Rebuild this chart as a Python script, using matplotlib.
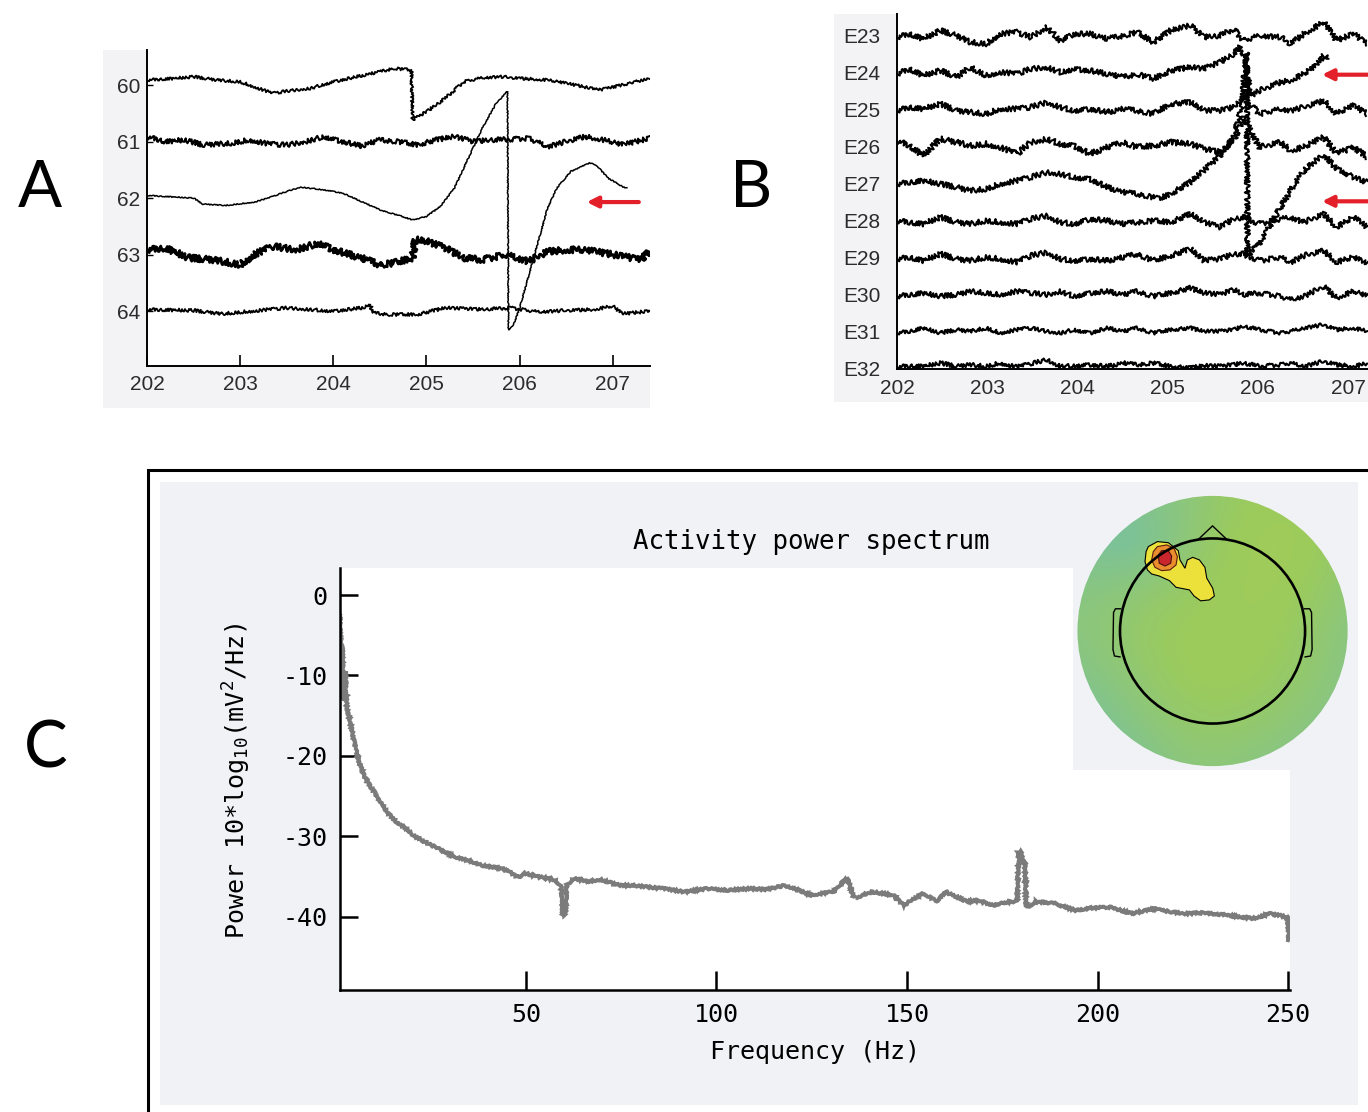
import numpy as np
import matplotlib
matplotlib.use('Agg')
import matplotlib.pyplot as plt
from matplotlib.patches import Rectangle, Circle
from matplotlib.colors import LinearSegmentedColormap

plt.rcParams['axes.unicode_minus'] = False
plt.rcParams['mathtext.fontset'] = 'custom'
plt.rcParams['mathtext.rm'] = 'DejaVu Sans Mono'
plt.rcParams['mathtext.it'] = 'DejaVu Sans Mono'
plt.rcParams['mathtext.bf'] = 'DejaVu Sans Mono'

# ------------------------------------------------------------------ data
# Panel A: channels 60-64, time (s) and deflection (display units, + = up)
A_CHANNELS = [60, 61, 62, 63, 64]
A_XTICKS = [202, 203, 204, 205, 206, 207]

A60_T = [202.0, 202.3, 202.5, 202.75, 203.0, 203.15, 203.35, 203.5, 203.75, 204.0, 204.25,
         204.5, 204.65, 204.84, 204.85, 205.0, 205.2, 205.4, 205.6, 205.8, 206.0, 206.3,
         206.6, 206.85, 207.1, 207.4]
A60_V = [5, 6.7, 8.3, 5, 3.3, -1.7, -8.3, -6, -3.3, 3.3, 8.3, 13.3, 16.7, 15, -35, -26.7,
         -13.3, 3.3, 7.3, 8.3, 6.7, 5, 0, -5, 0, 6.7]

A61_T = [202.0, 202.2, 202.4, 202.6, 202.9, 203.1, 203.3, 203.5, 203.7, 203.9, 204.1, 204.3,
         204.5, 204.7, 204.9, 205.1, 205.3, 205.5, 205.7, 205.9, 206.1, 206.3, 206.5, 206.7,
         206.9, 207.1, 207.4]
A61_V = [5, 0, 1.7, -3.3, -1.7, 1.7, -2.3, -3.3, 0, 5, 0, -4.3, 1.7, 0, -3.3, 1.7, 5, 0,
         1.7, 2.3, 3.3, -5, 0, 5, 1.7, -3.3, 3.3]

A62_T = [202.0, 202.5, 202.6, 202.85, 203.15, 203.3, 203.5, 203.65, 203.9, 204.1, 204.3,
         204.5, 204.7, 204.85, 205.0, 205.15, 205.3, 205.45, 205.6, 205.75, 205.87, 205.88,
         205.93, 206.0, 206.1, 206.2, 206.3, 206.4, 206.55, 206.75, 206.82, 206.95, 207.1,
         207.15]
A62_V = [2.7, 0, -6, -7.3, -4, 0, 6.7, 11, 8.3, 5, -3.3, -11.7, -17.3, -21.7, -18.3, -8.3,
         10, 40, 70, 95, 106.7, -131.7, -128, -110, -76.7, -43.3, -10, 10, 26.7, 35, 33.3,
         20, 11.7, 10]

A63_T = [202.0, 202.2, 202.45, 202.7, 203.0, 203.15, 203.35, 203.6, 203.85, 204.0, 204.3,
         204.5, 204.65, 204.85, 204.88, 205.0, 205.2, 205.4, 205.6, 205.85, 206.1, 206.3,
         206.6, 206.8, 207.0, 207.3, 207.4]
A63_V = [5, 6.7, -3.3, -5, -10, 0, 8.3, 5, 11.7, 5, -3.3, -10, -8.3, -3.3, 15, 13.3, 6.7,
         -3.3, -5, 0, -6.7, 3.3, 5, 3.3, 0, -5, 3.3]

A64_T = [202.0, 202.5, 202.8, 203.2, 203.5, 204.0, 204.3, 204.4, 204.42, 204.6, 204.9, 205.2,
         205.6, 205.9, 206.2, 206.5, 206.8, 207.0, 207.1, 207.4]
A64_V = [1.7, 0.7, -2.7, 0.7, 3.3, 0, 3.3, 6, -1.7, -3.3, -3.3, 3.3, 1.7, 3.3, -0.7, 0.7,
         1.7, 5, -2.7, 0]

# Panel B: channels E23-E32
B_LABELS = ['E23', 'E24', 'E25', 'E26', 'E27', 'E28', 'E29', 'E30', 'E31', 'E32']
B_XTICKS = [202, 203, 204, 205, 206, 207]
B_T = [202.0, 202.14, 202.29, 202.48, 202.66, 202.81, 202.99, 203.14, 203.33, 203.48,
       203.66, 203.81, 203.96, 204.14, 204.33, 204.51, 204.66, 204.84, 205.03, 205.25,
       205.40, 205.58, 205.73, 205.84, 206.02, 206.25, 206.36, 206.51, 206.73, 206.87,
       207.06, 207.21]
E23_V = [-1.3, 2.0, -3.0, 5.3, 0.3, -6.3, -8.0, 2.0, 3.7, -1.3, 8.7, -4.7, 2.0, 2.0, -3.0, 0.3,
         3.7, -6.3, 5.3, 10.3, -1.3, 0.3, 7.0, -4.7, 0.3, -1.3, -8.0, 2.0, 13.7, -4.7, 2.0, -8.0]
E25_V = [-0.7, 2.7, 1.0, 6.0, -0.7, -2.3, -4.0, 1.0, 1.0, 2.7, 7.7, 2.7, -0.7, 1.0, -2.3, 1.0,
         -0.7, -4.0, 6.0, 7.7, -0.7, -0.7, 2.7, 12.7, -4.0, 1.0, -0.7, 2.7, 9.3, -4.0, 4.3, -4.0]
E26_V = [6.3, 1.3, -8.7, 8.0, 4.7, 1.3, 3.0, -0.3, -7.0, 4.7, 8.0, 3.0, 1.3, -7.0, -0.3, 4.7,
         -0.3, 1.3, 4.7, 3.0, -2.0, -5.3, 6.3, 29.7, -0.3, 4.7, -3.7, -0.3, 9.7, -7.0, -0.3, -10.3]
E28_V = [0.3, -1.3, -3.0, 3.7, -1.3, -3.0, 0.3, -1.3, -3.0, 2.0, 5.3, -1.3, -3.0, 2.0, 0.3, -3.0,
         -1.3, 0.3, -1.3, 7.0, -1.3, -6.3, 2.0, 3.7, -3.0, 2.0, 3.7, -1.3, 7.0, -6.3, 3.7, -6.3]
E29_V = [-1.0, 0.7, -2.7, 4.0, -1.0, -2.7, 0.7, -1.0, -4.3, 2.3, 5.7, -1.0, -2.7, -1.0, -2.7, 0.7,
         4.0, -2.7, 2.3, 9.0, -2.7, -1.0, 4.0, 4.0, -2.7, 0.7, -4.3, 2.3, 7.3, -4.3, 0.7, -6.0]
E30_V = [-1.3, 0.3, 2.0, -1.3, 0.3, 3.7, 2.0, 0.3, 3.7, 2.0, 0.3, 3.7, -1.3, 2.0, 3.7, 0.3,
         3.7, -1.3, 2.0, 7.0, 2.0, 0.3, 5.3, 0.3, 2.0, -1.3, -4.7, -1.3, 8.7, -3.0, 3.7, -1.3]
E31_V = [-1.0, 0.7, 4.0, -1.0, 2.3, 0.7, 4.0, -1.0, 2.3, 4.0, 0.7, -1.0, 2.3, -1.0, 4.0, 0.7,
         4.0, -1.0, 2.3, 4.0, 0.7, 0.7, 2.3, 5.7, 2.3, -1.0, 0.7, 4.0, 7.3, 2.3, 4.0, 0.7]
E32_V = [2.0, 3.3, 2.7, 6.0, 2.7, 4.3, 2.7, 6.0, 2.0, 5.3, 9.3, 2.7, 3.3, 4.3, 2.7, 6.0,
         4.3, 6.0, 2.7, 1.0, 3.3, 2.7, 4.3, 6.0, 2.7, 4.3, 6.0, 2.7, 7.7, 4.3, 2.7, 5.3]

E24_T = [202.0, 202.14, 202.29, 202.48, 202.66, 202.81, 202.99, 203.14, 203.33, 203.48,
         203.66, 203.81, 203.96, 204.14, 204.33, 204.51, 204.66, 204.84, 205.03, 205.25,
         205.40, 205.58, 205.73, 205.80, 205.86, 205.92, 206.02, 206.25, 206.36, 206.51,
         206.65, 206.73, 206.78]
E24_V = [-1.0, 4.0, -2.7, 2.3, -4.3, 5.7, -2.7, 0.7, -1.0, 4.0, 5.7, 0.7, 4.0, 2.3, -1.0, -4.3,
         -1.0, -6.0, 2.3, 5.7, 4.0, 10.7, 19.0, 25.7, 15.7, -22.7, -17.7, -9.3, -7.7, -1.0,
         7.3, 17.3, 14.0]

E27_T = [202.0, 202.14, 202.29, 202.48, 202.66, 202.81, 202.99, 203.14, 203.33, 203.48,
         203.66, 203.81, 203.96, 204.14, 204.33, 204.51, 204.66, 204.84, 204.90, 205.03,
         205.25, 205.40, 205.58, 205.73, 205.80, 205.84, 205.875, 205.885, 205.92, 206.02,
         206.25, 206.36, 206.51, 206.73, 206.87, 207.06, 207.21]
E27_V = [0, 1.7, 3.3, 0, -3.3, -6.7, -5.0, 0, 3.3, 6.7, 11.7, 10.0, 6.7, 5.0, -3.3, -8.3,
         -10, -13.3, -15, -10, 1.7, 13.3, 28.3, 46.7, 70, 100, 131.7, -74, -68, -60, -23.3,
         -6.7, 13.3, 30, 15, 6.7, 1.7]

# Panel C: activity power spectrum (Hz, dB)
SPEC_FREQ = [1.2, 1.5, 1.8, 2.2, 2.6, 3.0, 3.8, 4.7, 5.6, 6.6, 7.7, 9.0, 10.4, 12.0, 13.8,
             16.0, 18.2, 20.5, 22.7, 26.1, 29.0, 32.1, 35.0, 38.4, 41.0, 43.7, 46.0, 47.9,
             49.7, 53.0, 57.6, 59.2, 59.7, 60.3, 60.8, 62.8, 66.0, 69.8, 74.7, 77.8, 82.0,
             86.1, 91.7, 97.4, 103.0, 108.8, 113.0, 117.9, 121.0, 124.8, 130.4, 132.5, 133.3,
             134.5, 136.1, 140.7, 146.4, 149.2, 151.5, 154.4, 157.8, 160.0, 165.7, 169.0,
             172.6, 176.0, 178.2, 178.9, 179.3, 179.8, 180.4, 180.9, 181.3, 181.7, 183.9,
             188.5, 194.2, 198.0, 203.3, 209.0, 214.7, 218.0, 222.6, 228.0, 234.0, 240.8,
             245.4, 248.5, 249.9, 250.2]
SPEC_DB = [-2.5, -12.5, -6.5, -13.0, -9.5, -14.0, -15.5, -17.8, -19.7, -21.3, -22.6, -23.7,
           -24.6, -25.9, -27.1, -28.2, -28.9, -29.9, -30.5, -31.3, -32.0, -32.7, -33.0, -33.6,
           -33.8, -34.0, -34.5, -35.1, -34.6, -35.0, -35.4, -36.2, -39.8, -39.8, -36.0, -35.2,
           -35.6, -35.4, -36.1, -36.1, -36.3, -36.5, -36.9, -36.5, -36.7, -36.5, -36.6, -36.1,
           -36.6, -37.3, -36.9, -36.2, -35.4, -35.4, -37.7, -36.9, -37.3, -38.6, -37.8, -37.1,
           -38.1, -36.9, -38.1, -38.0, -38.6, -38.2, -38.1, -38.0, -32.0, -31.8, -33.0, -33.2,
           -38.6, -38.8, -38.1, -38.3, -39.2, -38.9, -38.8, -39.6, -39.0, -39.3, -39.6, -39.5,
           -39.8, -40.2, -39.6, -39.9, -40.0, -42.9]
C_XTICKS = [50, 100, 150, 200, 250]
C_YTICKS = [0, -10, -20, -30, -40]

# Scalp map: coarse activity grid (rows top->bottom) and hot-spot contour outlines
TOPO_GRID = [
    [0.30, 0.30, 0.30, 0.36, 0.40, 0.40, 0.36],
    [0.28, 0.20, 0.28, 0.38, 0.42, 0.42, 0.36],
    [0.30, 0.32, 0.36, 0.40, 0.42, 0.40, 0.34],
    [0.32, 0.36, 0.40, 0.41, 0.41, 0.38, 0.30],
    [0.28, 0.33, 0.39, 0.41, 0.40, 0.36, 0.30],
    [0.24, 0.28, 0.35, 0.38, 0.36, 0.32, 0.28],
    [0.22, 0.24, 0.30, 0.33, 0.30, 0.28, 0.25],
]
YELLOW_U = [-0.347, -0.298, -0.239, -0.185, -0.176, -0.149, -0.136, -0.107, -0.071, -0.041,
            -0.031, 0.001, 0.010, -0.017, -0.064, -0.100, -0.125, -0.197, -0.233, -0.288,
            -0.329, -0.352, -0.365, -0.359]
YELLOW_V = [0.456, 0.483, 0.477, 0.434, 0.384, 0.339, 0.384, 0.398, 0.384, 0.344, 0.285,
            0.231, 0.189, 0.168, 0.163, 0.189, 0.222, 0.236, 0.272, 0.297, 0.308, 0.330,
            0.375, 0.429]
ORANGE_U = [-0.320, -0.298, -0.248, -0.208, -0.190, -0.197, -0.230, -0.275, -0.311, -0.329]
ORANGE_V = [0.429, 0.456, 0.465, 0.447, 0.402, 0.357, 0.330, 0.326, 0.344, 0.384]
RED_U = [-0.293, -0.275, -0.239, -0.221, -0.226, -0.257, -0.288]
RED_V = [0.411, 0.434, 0.434, 0.405, 0.366, 0.351, 0.366]

# ------------------------------------------------------------------ layout helpers
W, H = 1368, 1112
fig = plt.figure(figsize=(W / 100, H / 100), dpi=100)
fig.patch.set_facecolor('white')


def rect(l, t, r, b):
    return [l / W, 1 - b / H, (r - l) / W, (b - t) / H]


def fig_rect(l, t, r, b, **kw):
    fig.add_artist(Rectangle((l / W, 1 - b / H), (r - l) / W, (b - t) / H,
                             transform=fig.transFigure, **kw))


NARROW = ['Liberation Sans Narrow', 'Liberation Sans', 'DejaVu Sans']
MONO = ['DejaVu Sans Mono']
AB_BG = '#f3f3f5'
C_BG = '#f1f2f6'
RED = '#e3202a'
LABEL_COLOR = '#2b2b2b'

fig_rect(103, 50, 650, 408, facecolor=AB_BG, edgecolor='none', zorder=-2)
fig_rect(834, 14, 1368, 402, facecolor=AB_BG, edgecolor='none', zorder=-2)
fig_rect(148, 470, 1380, 1125, facecolor='white', edgecolor='black', lw=2.2, zorder=-3)
fig_rect(160, 482, 1358, 1105, facecolor=C_BG, edgecolor='none', zorder=-2)

# ------------------------------------------------------------------ panel A
SP_A = 56.5
axA = fig.add_axes(rect(147, 50, 650, 366))
axA.set_facecolor('white')
a_traces = [(60, A60_T, A60_V, 1.3, 1.4), (61, A61_T, A61_V, 1.5, 2.4),
            (62, A62_T, A62_V, 1.1, 0.5), (63, A63_T, A63_V, 2.0, 3.2),
            (64, A64_T, A64_V, 1.3, 1.6)]
for ch, t, v, lw, sk in a_traces:
    ln, = axA.plot(t, ch - np.asarray(v) / SP_A, color='black', lw=lw)
    ln.set_sketch_params(scale=sk, length=3, randomness=3)
axA.set_xlim(202, 207.4)
axA.set_ylim(64.97, 59.38)
axA.set_xticks(A_XTICKS)
axA.set_yticks(A_CHANNELS)
axA.set_yticklabels([str(c) for c in A_CHANNELS])
for s in ['top', 'right']:
    axA.spines[s].set_visible(False)
for s in ['left', 'bottom']:
    axA.spines[s].set_linewidth(1.4)
axA.tick_params(axis='x', direction='in', length=8, width=1.2, pad=6.5, labelsize=15,
                labelcolor=LABEL_COLOR)
axA.tick_params(axis='y', direction='in', length=4, width=1.0, pad=5, labelsize=15,
                labelcolor=LABEL_COLOR)
for lab in axA.get_xticklabels() + axA.get_yticklabels():
    lab.set_family(NARROW)
axA.annotate('', xy=(206.72, 62.07), xytext=(207.28, 62.07), annotation_clip=False,
             arrowprops=dict(arrowstyle='-|>', color=RED, lw=3, mutation_scale=16,
                             shrinkA=0, shrinkB=0))

# ------------------------------------------------------------------ panel B
SP_B = 37.1
axB = fig.add_axes(rect(897, 14, 1368, 369))
axB.set_facecolor('white')
b_traces = [(23, B_T, E23_V, 2.6), (24, E24_T, E24_V, 2.6), (25, B_T, E25_V, 2.6),
            (26, B_T, E26_V, 2.8), (27, E27_T, E27_V, 2.6), (28, B_T, E28_V, 2.6),
            (29, B_T, E29_V, 2.6), (30, B_T, E30_V, 2.4), (31, B_T, E31_V, 1.8),
            (32, B_T, E32_V, 2.0)]
for idx, t, v, sk in b_traces:
    ln, = axB.plot(t, idx - np.asarray(v) / SP_B, color='black', lw=1.5)
    ln.set_sketch_params(scale=sk, length=3, randomness=3)
axB.set_xlim(202, 207.22)
axB.set_ylim(32.0, 22.41)
axB.set_xticks(B_XTICKS)
axB.set_yticks(list(range(23, 33)))
axB.set_yticklabels(B_LABELS)
for s in ['top', 'right']:
    axB.spines[s].set_visible(False)
for s in ['left', 'bottom']:
    axB.spines[s].set_linewidth(1.4)
axB.tick_params(axis='x', direction='in', length=0, pad=7, labelsize=15,
                labelcolor=LABEL_COLOR)
axB.tick_params(axis='y', direction='in', length=0, pad=12, labelsize=15,
                labelcolor=LABEL_COLOR)
for lab in axB.get_xticklabels() + axB.get_yticklabels():
    lab.set_family(NARROW)
for yy in (24.05, 27.47):
    axB.annotate('', xy=(206.71, yy), xytext=(207.3, yy), annotation_clip=False,
                 arrowprops=dict(arrowstyle='-|>', color=RED, lw=3, mutation_scale=16,
                                 shrinkA=0, shrinkB=0))

# ------------------------------------------------------------------ panel C
axC = fig.add_axes(rect(340, 568, 1290, 990))
axC.set_facecolor('white')
spec_line, = axC.plot(SPEC_FREQ, SPEC_DB, color='#7b7b7b', lw=2.8, solid_joinstyle='miter')
spec_line.set_sketch_params(scale=0.9, length=4, randomness=3)
axC.set_xlim(1.2, 250.5)
axC.set_ylim(-49.1, 3.36)
axC.set_xticks(C_XTICKS)
axC.set_yticks(C_YTICKS)
for s in ['top', 'right']:
    axC.spines[s].set_visible(False)
for s in ['left', 'bottom']:
    axC.spines[s].set_linewidth(1.8)
axC.tick_params(axis='x', direction='in', length=14, width=1.8, pad=9, labelsize=18)
axC.tick_params(axis='y', direction='in', length=13, width=1.8, pad=9, labelsize=18)
for lab in axC.get_xticklabels() + axC.get_yticklabels():
    lab.set_family(MONO)
axC.set_xlabel('Frequency (Hz)', fontsize=18, family=MONO, labelpad=10)
fig.text(237 / W, 1 - 781 / H, r'Power 10*log$_{10}$(mV$^{2}$/Hz)', rotation=90,
         ha='center', va='center', fontsize=18, family=MONO)
fig.text(811 / W, 1 - 542 / H, 'Activity power spectrum', ha='center', va='center',
         fontsize=18.5, family=MONO)

# scalp map inset
topo_cmap = LinearSegmentedColormap.from_list('topo', [
    (0.0, '#4fb3cf'), (0.12, '#5fbcc0'), (0.25, '#7cc29a'), (0.4, '#9ccb5c'),
    (0.55, '#c2d54a'), (0.72, '#ece23a'), (0.86, '#ea8f2e'), (1.0, '#c9272d')])
axT = fig.add_axes(rect(1073, 482, 1358, 770))
axT.set_facecolor(C_BG)
axT.set_xticks([])
axT.set_yticks([])
for s in axT.spines.values():
    s.set_visible(False)
im = axT.imshow(TOPO_GRID, extent=(-0.875, 0.875, -0.875, 0.875), cmap=topo_cmap,
                vmin=0, vmax=1, interpolation='bicubic', origin='upper')
disk = Circle((0, 0), 0.73, transform=axT.transData)
im.set_clip_path(disk)
axT.fill(YELLOW_U, YELLOW_V, facecolor=topo_cmap(0.72), edgecolor='black', lw=0.8)
axT.fill(ORANGE_U, ORANGE_V, facecolor=topo_cmap(0.86), edgecolor='#5a1a10', lw=0.8)
axT.fill(RED_U, RED_V, facecolor=topo_cmap(1.0), edgecolor='#4a1010', lw=0.8)
axT.add_patch(Circle((0, 0), 0.5, fill=False, edgecolor='black', lw=1.9))
axT.plot([-0.08, 0.0, 0.08], [0.492, 0.568, 0.492], color='black', lw=1.0)
ear_u = [0.497, 0.525, 0.535, 0.538, 0.530, 0.500]
ear_v = [0.12, 0.12, 0.10, -0.10, -0.135, -0.14]
axT.plot([-u for u in ear_u], ear_v, color='black', lw=1.0)
axT.plot(ear_u, ear_v, color='black', lw=1.0)
axT.set_xlim(-0.754, 0.786)
axT.set_ylim(-0.751, 0.805)
axT.set_aspect('auto')

# ------------------------------------------------------------------ panel letters
for letter, x, y in [('A', 40, 207), ('B', 751, 207), ('C', 46, 768)]:
    fig.text(x / W, 1 - y / H, letter, ha='center', va='baseline', fontsize=47,
             family=['Lato', 'DejaVu Sans'])

fig.savefig('out.png', dpi=100, facecolor='white')
